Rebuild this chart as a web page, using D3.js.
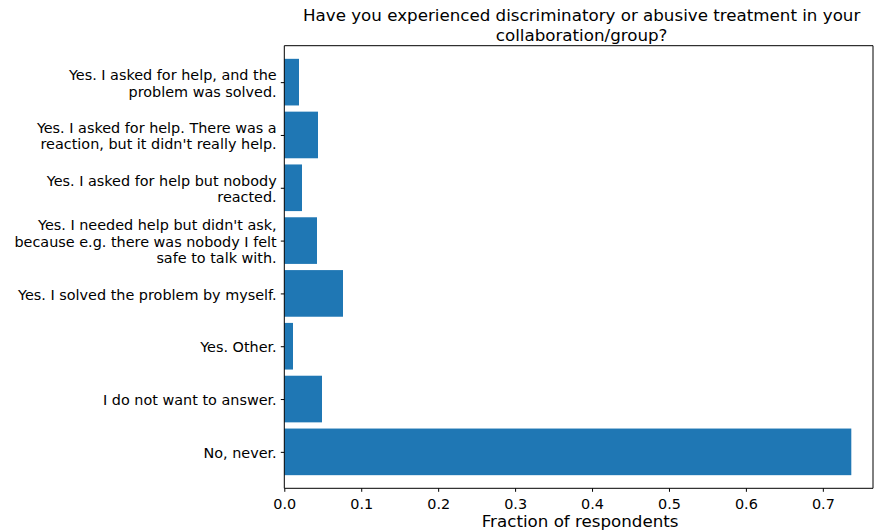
<!DOCTYPE html>
<html>
<head>
<meta charset="utf-8">
<script src="https://cdn.jsdelivr.net/npm/d3@7"></script>
<style>
  body { margin: 0; background: #fff; }
  svg { display: block; font-family: "DejaVu Sans", sans-serif; }
</style>
</head>
<body>
<svg id="chart" width="874" height="530"></svg>
<script>
// Categories from bottom (index 0) to top
const categories = [
  ["No, never."],
  ["I do not want to answer."],
  ["Yes. Other."],
  ["Yes. I solved the problem by myself."],
  ["Yes. I needed help but didn't ask,", "because e.g. there was nobody I felt", "safe to talk with."],
  ["Yes. I asked for help but nobody", "reacted."],
  ["Yes. I asked for help. There was a", "reaction, but it didn't really help."],
  ["Yes. I asked for help, and the", "problem was solved."]
];
const values = [0.737, 0.049, 0.0113, 0.0763, 0.0425, 0.0230, 0.0438, 0.0191];
const xTicks = [0, 0.1, 0.2, 0.3, 0.4, 0.5, 0.6, 0.7];
const titleLines = ["Have you experienced discriminatory or abusive treatment in your", "collaboration/group?"];
const xLabel = "Fraction of respondents";

(function () {
const svg = d3.select("#chart");
const pLeft = 284.3, pRight = 873, pTop = 45.7, pBottom = 488.3;
const barColor = "#1f77b4";
const tickFont = "14.4px", bigFont = "16.7px";

const x = d3.scaleLinear().domain([0, 0.7652]).range([pLeft, pRight]);
const y = d3.scaleLinear().domain([-0.69, 7.69]).range([pBottom, pTop]);
const barH = 0.883;

svg.append("g").selectAll("rect.bar").data(values).enter().append("rect")
  .attr("class", "bar")
  .attr("x", x(0))
  .attr("y", (d, i) => y(i + barH / 2))
  .attr("width", d => x(d) - x(0))
  .attr("height", (d, i) => y(i - barH / 2) - y(i + barH / 2))
  .attr("fill", barColor);

// Spines
const spine = svg.append("g").attr("stroke", "#000").attr("stroke-width", 1).attr("fill", "none");
spine.append("line").attr("x1", pLeft).attr("x2", pLeft).attr("y1", pTop).attr("y2", pBottom);
spine.append("line").attr("x1", pLeft).attr("x2", pRight).attr("y1", pBottom).attr("y2", pBottom);
spine.append("line").attr("x1", pLeft).attr("x2", pRight).attr("y1", pTop).attr("y2", pTop);
spine.append("line").attr("x1", pRight).attr("x2", pRight).attr("y1", pTop).attr("y2", pBottom);

// X axis
const xAxis = d3.axisBottom(x).tickValues(xTicks).tickFormat(d3.format(".1f")).tickSize(3.5);
const xa = svg.append("g").attr("transform", `translate(0,${pBottom})`).call(xAxis);
xa.select(".domain").remove();
xa.selectAll("text").attr("font-size", tickFont).attr("font-family", "DejaVu Sans")
  .attr("fill", "#000").attr("y", 20.5).attr("dy", 0);
xa.selectAll("line").attr("stroke", "#000");

// Y axis
const yAxis = d3.axisLeft(y).tickValues(d3.range(categories.length)).tickFormat("").tickSize(3.5);
const ya = svg.append("g").attr("transform", `translate(${pLeft},0)`).call(yAxis);
ya.select(".domain").remove();
ya.selectAll("line").attr("stroke", "#000");

const lineH = 16.4;
const labels = svg.append("g").attr("font-size", tickFont).attr("fill", "#000").attr("text-anchor", "end");
categories.forEach((lines, i) => {
  const cy = y(i);
  const t = labels.append("text").attr("x", 276.7);
  lines.forEach((ln, k) => {
    t.append("tspan").attr("x", 276.7)
      .attr("y", cy + (k - (lines.length - 1) / 2) * lineH + 6.2)
      .text(ln);
  });
});

// X label
svg.append("text").attr("x", (pLeft + pRight) / 2 + 1.5).attr("y", 526.5)
  .attr("text-anchor", "middle").attr("font-size", bigFont).attr("fill", "#000").text(xLabel);

// Title
const tt = svg.append("text").attr("text-anchor", "middle").attr("font-size", bigFont).attr("fill", "#000");
titleLines.forEach((ln, k) => {
  tt.append("tspan").attr("x", (pLeft + pRight) / 2 + 3).attr("y", 21 + k * 19.7).text(ln);
});
})();
</script>
</body>
</html>
